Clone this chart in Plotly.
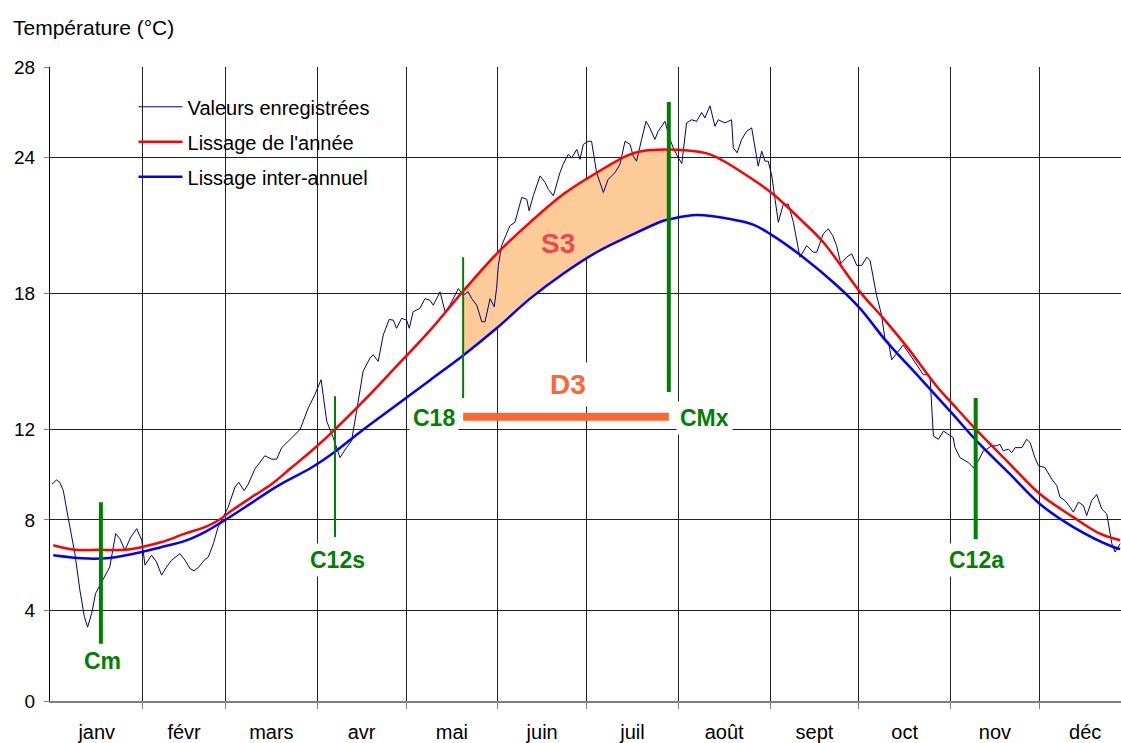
import plotly.graph_objects as go

# day of year (0 = 1 Jan) and temperature (°C)
obs_day = [0.4, 1.9, 3.0, 4.2, 5.8, 8.1, 9.8, 11.3, 12.4, 13.8,
           15.1, 16.6, 18.3, 19.9, 21.9, 23.3, 25.0, 27.0, 29.0, 30.7,
           31.8, 32.9, 34.0, 35.7, 37.4, 39.1, 40.8, 43.6, 45.3, 47.0,
           48.4, 50.0, 51.8, 53.2, 54.9, 56.5, 57.7, 59.9, 62.2, 63.5,
           65.3, 66.7, 68.9, 72.3, 74.6, 76.3, 78.0, 81.3, 84.2, 87.0,
           89.2, 91.3, 93.2, 95.4, 97.7, 99.9, 101.6, 103.3, 105.5, 107.8,
           108.9, 110.6, 112.3, 114.3, 115.7, 116.8, 118.5, 120.2, 121.1, 122.4,
           124.7, 126.4, 128.1, 129.2, 131.5, 133.2, 134.8, 137.7, 139.3, 141.0,
           142.2, 143.9, 145.6, 146.7, 148.4, 149.8, 150.6, 151.2, 152.3, 155.1,
           156.8, 159.1, 160.8, 161.6, 163.0, 165.3, 167.0, 168.1, 169.8, 172.0,
           173.1, 174.8, 176.0, 177.7, 178.8, 179.9, 181.6, 182.7, 184.4, 186.7,
           188.3, 190.6, 192.3, 194.0, 195.7, 196.8, 197.9, 199.6, 201.1, 202.4,
           204.1, 205.2, 207.5, 209.2, 210.3, 212.0, 213.2, 214.8, 216.5, 218.2,
           219.9, 221.0, 222.7, 224.4, 225.5, 227.8, 230.0, 230.6, 231.9, 233.4,
           235.1, 236.8, 237.9, 239.0, 240.2, 241.3, 242.4, 243.6, 244.7, 245.8,
           247.5, 249.2, 250.9, 253.1, 255.4, 257.6, 258.8, 261.0, 262.7, 264.2,
           265.5, 266.9, 268.9, 270.6, 272.3, 274.0, 275.7, 276.8, 279.0, 280.7,
           281.9, 283.0, 284.1, 286.3, 288.0, 290.3, 292.6, 294.8, 296.5, 297.1,
           298.2, 299.9, 301.6, 303.8, 304.9, 305.5, 307.2, 310.0, 311.7, 313.4,
           315.1, 316.2, 317.9, 319.6, 320.7, 321.8, 323.5, 324.7, 325.8, 328.1,
           329.7, 330.9, 332.5, 333.7, 335.9, 338.2, 339.9, 341.0, 342.7, 344.4,
           345.5, 347.2, 348.9, 350.0, 351.7, 353.4, 355.1, 356.8, 358.5, 359.6,
           361.3]
obs_temp = [9.58, 9.76, 9.66, 9.29, 8.12, 6.51, 4.90, 3.73, 3.26, 3.88,
            4.75, 5.12, 5.56, 5.92, 7.39, 7.17, 6.66, 7.24, 7.61, 7.10,
            6.00, 6.22, 6.44, 6.14, 5.56, 5.92, 6.22, 6.51, 6.22, 5.85,
            5.75, 5.92, 6.22, 6.36, 6.95, 7.68, 7.97, 8.56, 9.44, 9.66,
            9.29, 9.58, 10.24, 10.83, 10.68, 10.68, 11.19, 11.63, 11.99, 12.95,
            13.53, 14.19, 12.36, 11.63, 10.75, 11.19, 11.49, 12.80, 14.56, 15.14,
            15.29, 15.00, 16.16, 16.85, 16.82, 16.46, 16.90, 16.82, 16.46, 17.19,
            17.34, 17.77, 17.70, 17.48, 18.07, 17.19, 17.48, 18.21, 17.92, 18.07,
            17.77, 17.48, 16.75, 16.75, 17.77, 17.41, 18.21, 19.24, 20.11, 20.99,
            21.14, 22.24, 22.16, 21.65, 22.31, 23.19, 22.90, 22.60, 22.31, 23.33,
            23.70, 24.14, 23.99, 24.36, 23.92, 24.58, 24.72, 24.72, 23.33, 22.46,
            23.04, 23.33, 23.70, 24.72, 24.58, 24.06, 23.84, 24.80, 25.60, 25.31,
            24.80, 25.16, 25.60, 24.80, 24.43, 23.99, 23.74, 25.53, 25.67, 25.60,
            25.99, 25.75, 26.29, 25.38, 25.67, 25.53, 25.67, 24.43, 24.21, 24.80,
            25.16, 25.31, 24.36, 23.62, 24.28, 23.84, 23.84, 23.19, 22.16, 21.14,
            21.94, 21.94, 21.14, 19.60, 20.11, 19.82, 19.82, 20.63, 20.85, 20.55,
            20.11, 19.31, 19.60, 19.75, 19.24, 19.24, 19.60, 19.46, 17.92, 17.04,
            15.94, 15.87, 15.07, 15.43, 15.72, 15.29, 14.85, 14.41, 14.41, 14.26,
            11.70, 11.56, 11.92, 11.70, 11.63, 11.19, 10.75, 10.53, 10.31, 10.61,
            11.05, 11.12, 11.27, 11.27, 11.34, 11.05, 11.12, 10.97, 11.19, 11.19,
            11.56, 11.41, 10.75, 10.39, 10.31, 9.80, 9.51, 9.00, 8.85, 8.56,
            8.34, 8.78, 8.63, 8.19, 8.85, 9.12, 8.48, 8.26, 6.95, 6.58,
            6.95]

# smoothing of the year
year_day = [0.8, 8.1, 16.0, 25.0, 30.7, 37.4, 45.3, 52.0, 56.5, 61.1,
            67.8, 74.6, 81.3, 88.1, 95.4, 105.5, 116.8, 128.1, 139.3, 150.6,
            161.9, 173.1, 184.4, 195.7, 202.4, 208.8, 213.7, 222.7, 236.2, 244.1,
            253.1, 261.0, 273.4, 281.3, 289.2, 299.3, 304.9, 312.8, 323.0, 334.2,
            345.5, 354.5, 361.3]
year_temp = [6.88, 6.68, 6.68, 6.68, 6.80, 7.02, 7.39, 7.68, 7.97, 8.41,
             9.00, 9.58, 10.31, 11.05, 11.92, 13.23, 14.79, 16.37, 18.10, 19.75,
             21.14, 22.38, 23.33, 24.14, 24.33, 24.36, 24.33, 24.14, 23.12, 22.38,
             21.29, 20.26, 18.07, 16.90, 15.65, 13.90, 13.09, 11.96, 10.61, 9.14,
             8.12, 7.39, 7.10]

# inter-annual smoothing
inter_day = [0.8, 12.6, 20.5, 30.7, 37.4, 45.3, 52.0, 57.7, 65.6, 76.8,
             88.1, 95.4, 105.5, 116.8, 128.1, 139.3, 150.6, 161.9, 173.1, 184.4,
             195.7, 206.9, 208.8, 218.2, 229.5, 237.3, 243.0, 254.2, 265.5, 273.4,
             282.4, 293.7, 304.9, 312.8, 324.1, 334.2, 345.5, 359.0, 361.3]
inter_temp = [6.44, 6.29, 6.33, 6.58, 6.80, 7.07, 7.46, 7.90, 8.56, 9.51,
              10.31, 10.95, 11.98, 13.07, 14.17, 15.26, 16.46, 17.77, 18.87, 19.82,
              20.55, 21.21, 21.27, 21.46, 21.29, 21.04, 20.63, 19.60, 18.36, 17.34,
              15.87, 14.26, 12.65, 11.49, 10.02, 8.70, 7.68, 6.80, 6.71]

assert len(obs_day) == len(obs_temp)
assert len(year_day) == len(year_temp)
assert len(inter_day) == len(inter_temp)

months = ["janv", "févr", "mars", "avr", "mai", "juin",
          "juil", "août", "sept", "oct", "nov", "déc"]
month_start = [0, 31, 59, 90, 120, 151, 181, 212, 243, 273, 304, 334, 365]
month_mid = [(a + b) / 2 for a, b in zip(month_start[:-1], month_start[1:])]

y_ticks = [0, 4, 8, 12, 18, 24, 28]

# markers: vertical bars (day, bottom, top) and their labels
event_name = ["Cm", "C12s", "C18", "CMx", "C12a"]
event_day = [16.9, 96.0, 139.3, 208.8, 312.5]
event_low = [2.53, 7.24, 13.38, 13.65, 7.14]
event_high = [8.78, 13.46, 19.60, 26.45, 13.38]
event_width = [4, 2, 2, 4, 4]
label_day = [17.6, 96.7, 129.4, 221.0, 312.9]
label_temp = [1.76, 6.23, 12.51, 12.51, 6.23]

d3_temp = 12.55
d3_label = (174.8, 13.97)
s3_label = (171.4, 20.19)

GREEN = "#008000"
FONT = "Liberation Sans, Arial, sans-serif"

fig = go.Figure()

# S3 area between the two smoothings, from C18 to CMx
c18, cmx = event_day[2], event_day[3]
s3_bot = [(d, t) for d, t in zip(inter_day, inter_temp) if c18 <= d <= cmx]
s3_top = [(d, t) for d, t in zip(year_day, year_temp) if c18 <= d <= cmx]
fig.add_trace(go.Scatter(x=[p[0] for p in s3_bot], y=[p[1] for p in s3_bot],
                         mode="lines", line=dict(width=0, shape="spline"),
                         showlegend=False, hoverinfo="skip"))
fig.add_trace(go.Scatter(x=[p[0] for p in s3_top], y=[p[1] for p in s3_top],
                         mode="lines", line=dict(width=0, shape="spline"),
                         fill="tonexty", fillcolor="#FDCB98",
                         showlegend=False, hoverinfo="skip"))

fig.add_trace(go.Scatter(name="Valeurs enregistrées", x=obs_day, y=obs_temp,
                         legendgroup="a", mode="lines",
                         line=dict(color="#000080", width=1)))
fig.add_trace(go.Scatter(name="Lissage de l'année", x=year_day, y=year_temp,
                         legendgroup="b", mode="lines",
                         line=dict(color="#FF0000", width=2.5, shape="spline")))
fig.add_trace(go.Scatter(name="Lissage inter-annuel", x=inter_day, y=inter_temp,
                         legendgroup="c", mode="lines",
                         line=dict(color="#0000FF", width=2.5, shape="spline")))

for d, lo, hi, w in zip(event_day, event_low, event_high, event_width):
    fig.add_trace(go.Scatter(x=[d, d], y=[lo, hi], mode="lines",
                             line=dict(color=GREEN, width=w),
                             showlegend=False, hoverinfo="skip"))

# D3 duration bar
fig.add_trace(go.Scatter(x=[c18, cmx], y=[d3_temp, d3_temp], mode="lines",
                         line=dict(color="#FF6633", width=8),
                         showlegend=False, hoverinfo="skip"))

for name, d, t in zip(event_name, label_day, label_temp):
    fig.add_annotation(x=d, y=t, text="<b>%s</b>" % name, showarrow=False,
                       font=dict(family=FONT, size=23, color=GREEN),
                       bgcolor="white", borderpad=3)

fig.add_annotation(x=d3_label[0], y=d3_label[1], text="<b>D3</b>",
                   showarrow=False, bgcolor="white", borderpad=6,
                   font=dict(family=FONT, size=28, color="#FF6633"))
fig.add_annotation(x=s3_label[0], y=s3_label[1], text="<b>S3</b>",
                   showarrow=False,
                   font=dict(family=FONT, size=28, color="#F04848"))

fig.add_annotation(xref="paper", yref="paper", x=-0.0364, y=1.063,
                   xanchor="left", yanchor="middle", showarrow=False,
                   text="Température (°C)",
                   font=dict(family=FONT, size=21, color="black"))

# white box behind the legend hides the grid
fig.add_shape(type="rect", xref="paper", yref="paper",
              x0=0.051, x1=0.3875, y0=0.7915, y1=0.975,
              fillcolor="white", line_width=0, layer="between")

fig.update_layout(
    width=1121, height=743,
    margin=dict(l=50, r=0, t=67, b=38),
    paper_bgcolor="white", plot_bgcolor="white",
    font=dict(family=FONT, size=20, color="black"),
    showlegend=True,
    legend=dict(x=0.078, y=0.968, xanchor="left", yanchor="top",
                traceorder="grouped", tracegroupgap=6,
                bgcolor="rgba(0,0,0,0)", font=dict(size=20),
                itemwidth=44),
    xaxis=dict(range=[-0.3, 361.6], tickmode="array", tickvals=month_mid,
               ticktext=months, ticks="outside", ticklen=12,
               tickcolor="rgba(0,0,0,0)", showgrid=False, zeroline=False,
               showline=True, linecolor="#808080", linewidth=2,
               tickfont=dict(size=20),
               minor=dict(tickmode="array", tickvals=month_start[1:12],
                          ticks="outside", ticklen=6, tickcolor="#808080",
                          showgrid=True, gridcolor="#222222", gridwidth=1)),
    yaxis=dict(range=[0, 28], tickmode="array", tickvals=y_ticks,
               ticks="outside", ticklen=5, tickcolor="#808080",
               ticklabelstandoff=5, tickfont=dict(size=19),
               showgrid=True, gridcolor="#222222", gridwidth=1,
               zeroline=False, showline=True, linecolor="black",
               linewidth=1),
)

fig.write_html("out.html", config={"displayModeBar": False},
               post_script="document.body.style.margin='0';")
